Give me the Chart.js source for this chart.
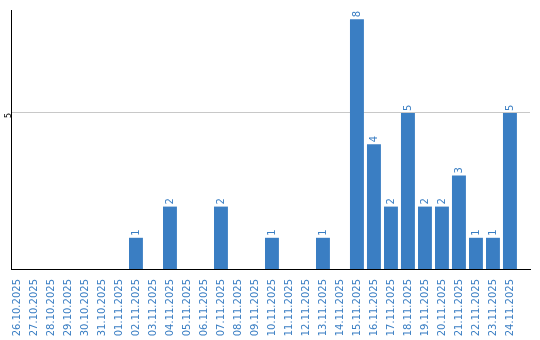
<!DOCTYPE html>
<html>
<head>
<meta charset="utf-8">
<script src="https://cdn.jsdelivr.net/npm/chart.js@4"></script>
<style>
  html, body { margin: 0; padding: 0; background: #fff; }
  #wrap { width: 540px; height: 340px; }
</style>
</head>
<body>
<div id="wrap"><canvas id="chart"></canvas></div>
<script>
const days = ['26.10.2025','27.10.2025','28.10.2025','29.10.2025','30.10.2025','31.10.2025',
  '01.11.2025','02.11.2025','03.11.2025','04.11.2025','05.11.2025','06.11.2025','07.11.2025',
  '08.11.2025','09.11.2025','10.11.2025','11.11.2025','12.11.2025','13.11.2025','14.11.2025',
  '15.11.2025','16.11.2025','17.11.2025','18.11.2025','19.11.2025','20.11.2025','21.11.2025',
  '22.11.2025','23.11.2025','24.11.2025'];
const counts = [0,0,0,0,0,0, 0,1,0,2,0,0,2, 0,0,1,0,0,1,0, 8,4,2,5,2,2,3, 1,1,5];
const yTicks = [5];

const blue = '#3a7ec3';

// vertical value labels above each bar
const barLabels = {
  id: 'barLabels',
  afterDatasetsDraw(chart) {
    const ctx = chart.ctx;
    const meta = chart.getDatasetMeta(0);
    ctx.save();
    ctx.fillStyle = blue;
    ctx.font = '10px "DejaVu Sans"';
    ctx.textAlign = 'left';
    ctx.textBaseline = 'middle';
    meta.data.forEach((bar, i) => {
      if (!counts[i]) return;
      ctx.save();
      ctx.translate(bar.x, bar.y - 2);
      ctx.rotate(-Math.PI / 2);
      ctx.fillText(String(counts[i]), 0, 0);
      ctx.restore();
    });
    ctx.restore();
  }
};

new Chart(document.getElementById('chart'), {
  type: 'bar',
  data: {
    labels: days,
    datasets: [{
      data: counts,
      backgroundColor: blue,
      barPercentage: 0.82,
      categoryPercentage: 1.0
    }]
  },
  options: {
    responsive: true,
    maintainAspectRatio: false,
    animation: false,
    layout: { padding: { top: 10, right: 10, left: 0, bottom: 0 } },
    plugins: { legend: { display: false }, tooltip: { enabled: false } },
    scales: {
      x: {
        offset: true,
        grid: { display: false },
        border: { color: '#000', width: 1 },
        ticks: {
          color: blue,
          font: { family: 'DejaVu Sans', size: 10 },
          minRotation: 90,
          maxRotation: 90,
          autoSkip: false,
          padding: 2
        },
        // categories sit a bit left, leaving empty room at the right end
        afterBuildTicks: s => { s._startValue = -0.35; s._valueRange = 30.53; },
        afterFit: s => { s.height = 71; }
      },
      y: {
        min: 0,
        max: 8.3,
        afterBuildTicks: axis => { axis.ticks = yTicks.map(v => ({ value: v })); },
        grid: { color: '#c8c8c8', drawTicks: false },
        border: { color: '#000', width: 1 },
        ticks: {
          color: '#000',
          font: { family: 'DejaVu Sans', size: 8 },
          minRotation: 90,
          maxRotation: 90,
          padding: 2
        },
        afterFit: s => { s.width = 11; }
      }
    }
  },
  plugins: [barLabels]
});
</script>
</body>
</html>
